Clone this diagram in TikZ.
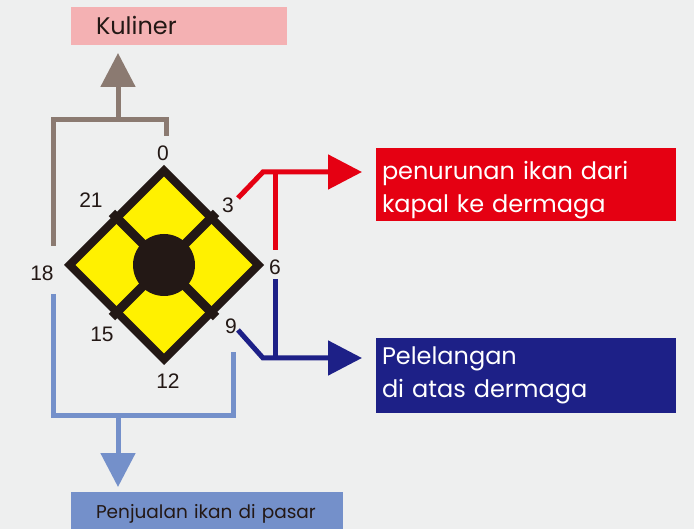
\documentclass[tikz,border=0pt]{standalone}
\usepackage{fontspec}
\setmainfont{Poppins}
\newfontfamily\angkafont{Liberation Sans}
\usetikzlibrary{arrows.meta,shapes.geometric}

\definecolor{latar}{HTML}{EEEFEF}
\definecolor{merahmuda}{HTML}{F4B1B3}
\definecolor{coklat}{HTML}{8B7A71}
\definecolor{merah}{HTML}{E50012}
\definecolor{biru}{HTML}{1D2087}
\definecolor{birumuda}{HTML}{7490CA}
\definecolor{kuning}{HTML}{FFF100}
\definecolor{hitam}{HTML}{231815}

\begin{document}
\begin{tikzpicture}[x=1pt,y=-1pt,
    garis/.style={line width=5pt},
    panah/.style={garis,-{Triangle[width=34pt,length=34pt]}},
    kotak/.style={anchor=north west,inner ysep=0pt,outer sep=0pt,align=left},
    angka/.style={font=\angkafont\fontsize{21}{21}\selectfont,text=hitam,inner sep=0pt}]
    \fill[latar] (0,0) rectangle (694,529);
    \useasboundingbox (0,0) rectangle (694,529);

    % kotak tujuan
    \node[kotak,fill=merahmuda,text=hitam,text height=28pt,text depth=10pt,
        text width=166pt,inner xsep=25pt,font=\fontsize{24}{28}\selectfont] (kuliner) at (71,7) {Kuliner};
    \node[kotak,fill=merah,text=white,text height=32pt,text depth=41pt,
        text width=288pt,inner xsep=6pt,font=\fontsize{24}{33}\selectfont] (turun) at (376,148)
        {penurunan ikan dari\\kapal ke dermaga};
    \node[kotak,fill=biru,text=white,text height=27pt,text depth=48pt,
        text width=288pt,inner xsep=6pt,font=\fontsize{24}{33}\selectfont] (lelang) at (376,338)
        {Pelelangan\\di atas dermaga};
    \node[kotak,fill=birumuda,text=hitam,text height=26pt,text depth=12pt,
        text width=222pt,inner xsep=25pt,font=\fontsize{18.5}{22}\selectfont] (pasar) at (71,492)
        {\mbox{Penjualan ikan di pasar}};

    % jam
    \node[diamond,draw=hitam,fill=kuning,line width=8pt,minimum width=192pt,
        minimum height=192pt,inner sep=0pt] (jam) at (164,265) {};
    \draw[hitam,line width=9pt,shorten <=-3pt,shorten >=-3pt] (jam.north west) -- (jam.south east);
    \draw[hitam,line width=9pt,shorten <=-3pt,shorten >=-3pt] (jam.north east) -- (jam.south west);
    \node[circle,fill=hitam,minimum size=62pt,inner sep=0pt] (pusat) at (jam.center) {};

    \foreach \j/\x/\y in {0/163/153,3/228/205,6/275/267,9/231/326,
        12/168/381,15/102/334,18/42/273,21/91/200}{
        \node[angka] (j\j) at (\x,\y) {\j};
    }

    % kuliner
    \coordinate (b0) at (166,136);
    \coordinate (b18) at (53,246);
    \coordinate (k-tengah) at (118,120);
    \draw[garis,coklat] (b0) -- ++(0,-16) -| (b18);
    \draw[panah,coklat] (k-tengah) -- ([yshift=-8pt]kuliner.south -| k-tengah);

    % penurunan
    \coordinate (m3) at (238,198);
    \coordinate (m-sudut) at (263,172);
    \draw[panah,merah] (m3) -- (m-sudut) -- ([xshift=-14pt]turun.west |- m-sudut);
    \draw[garis,merah] (275,172) -- (275,250);

    % pelelangan
    \coordinate (m9) at (238,330);
    \coordinate (l-sudut) at (263,358);
    \draw[panah,biru] (m9) -- (l-sudut) -- ([xshift=-14pt]lelang.west |- l-sudut);
    \draw[garis,biru] (275,279) -- (275,358);

    % pasar
    \coordinate (b15) at (53,294);
    \coordinate (b9) at (233,352);
    \coordinate (p-tengah) at (118,416);
    \draw[garis,birumuda] (b15) |- (b9 |- p-tengah) -- (b9);
    \draw[panah,birumuda] (p-tengah) -- ([yshift=5pt]pasar.north -| p-tengah);
\end{tikzpicture}
\end{document}
